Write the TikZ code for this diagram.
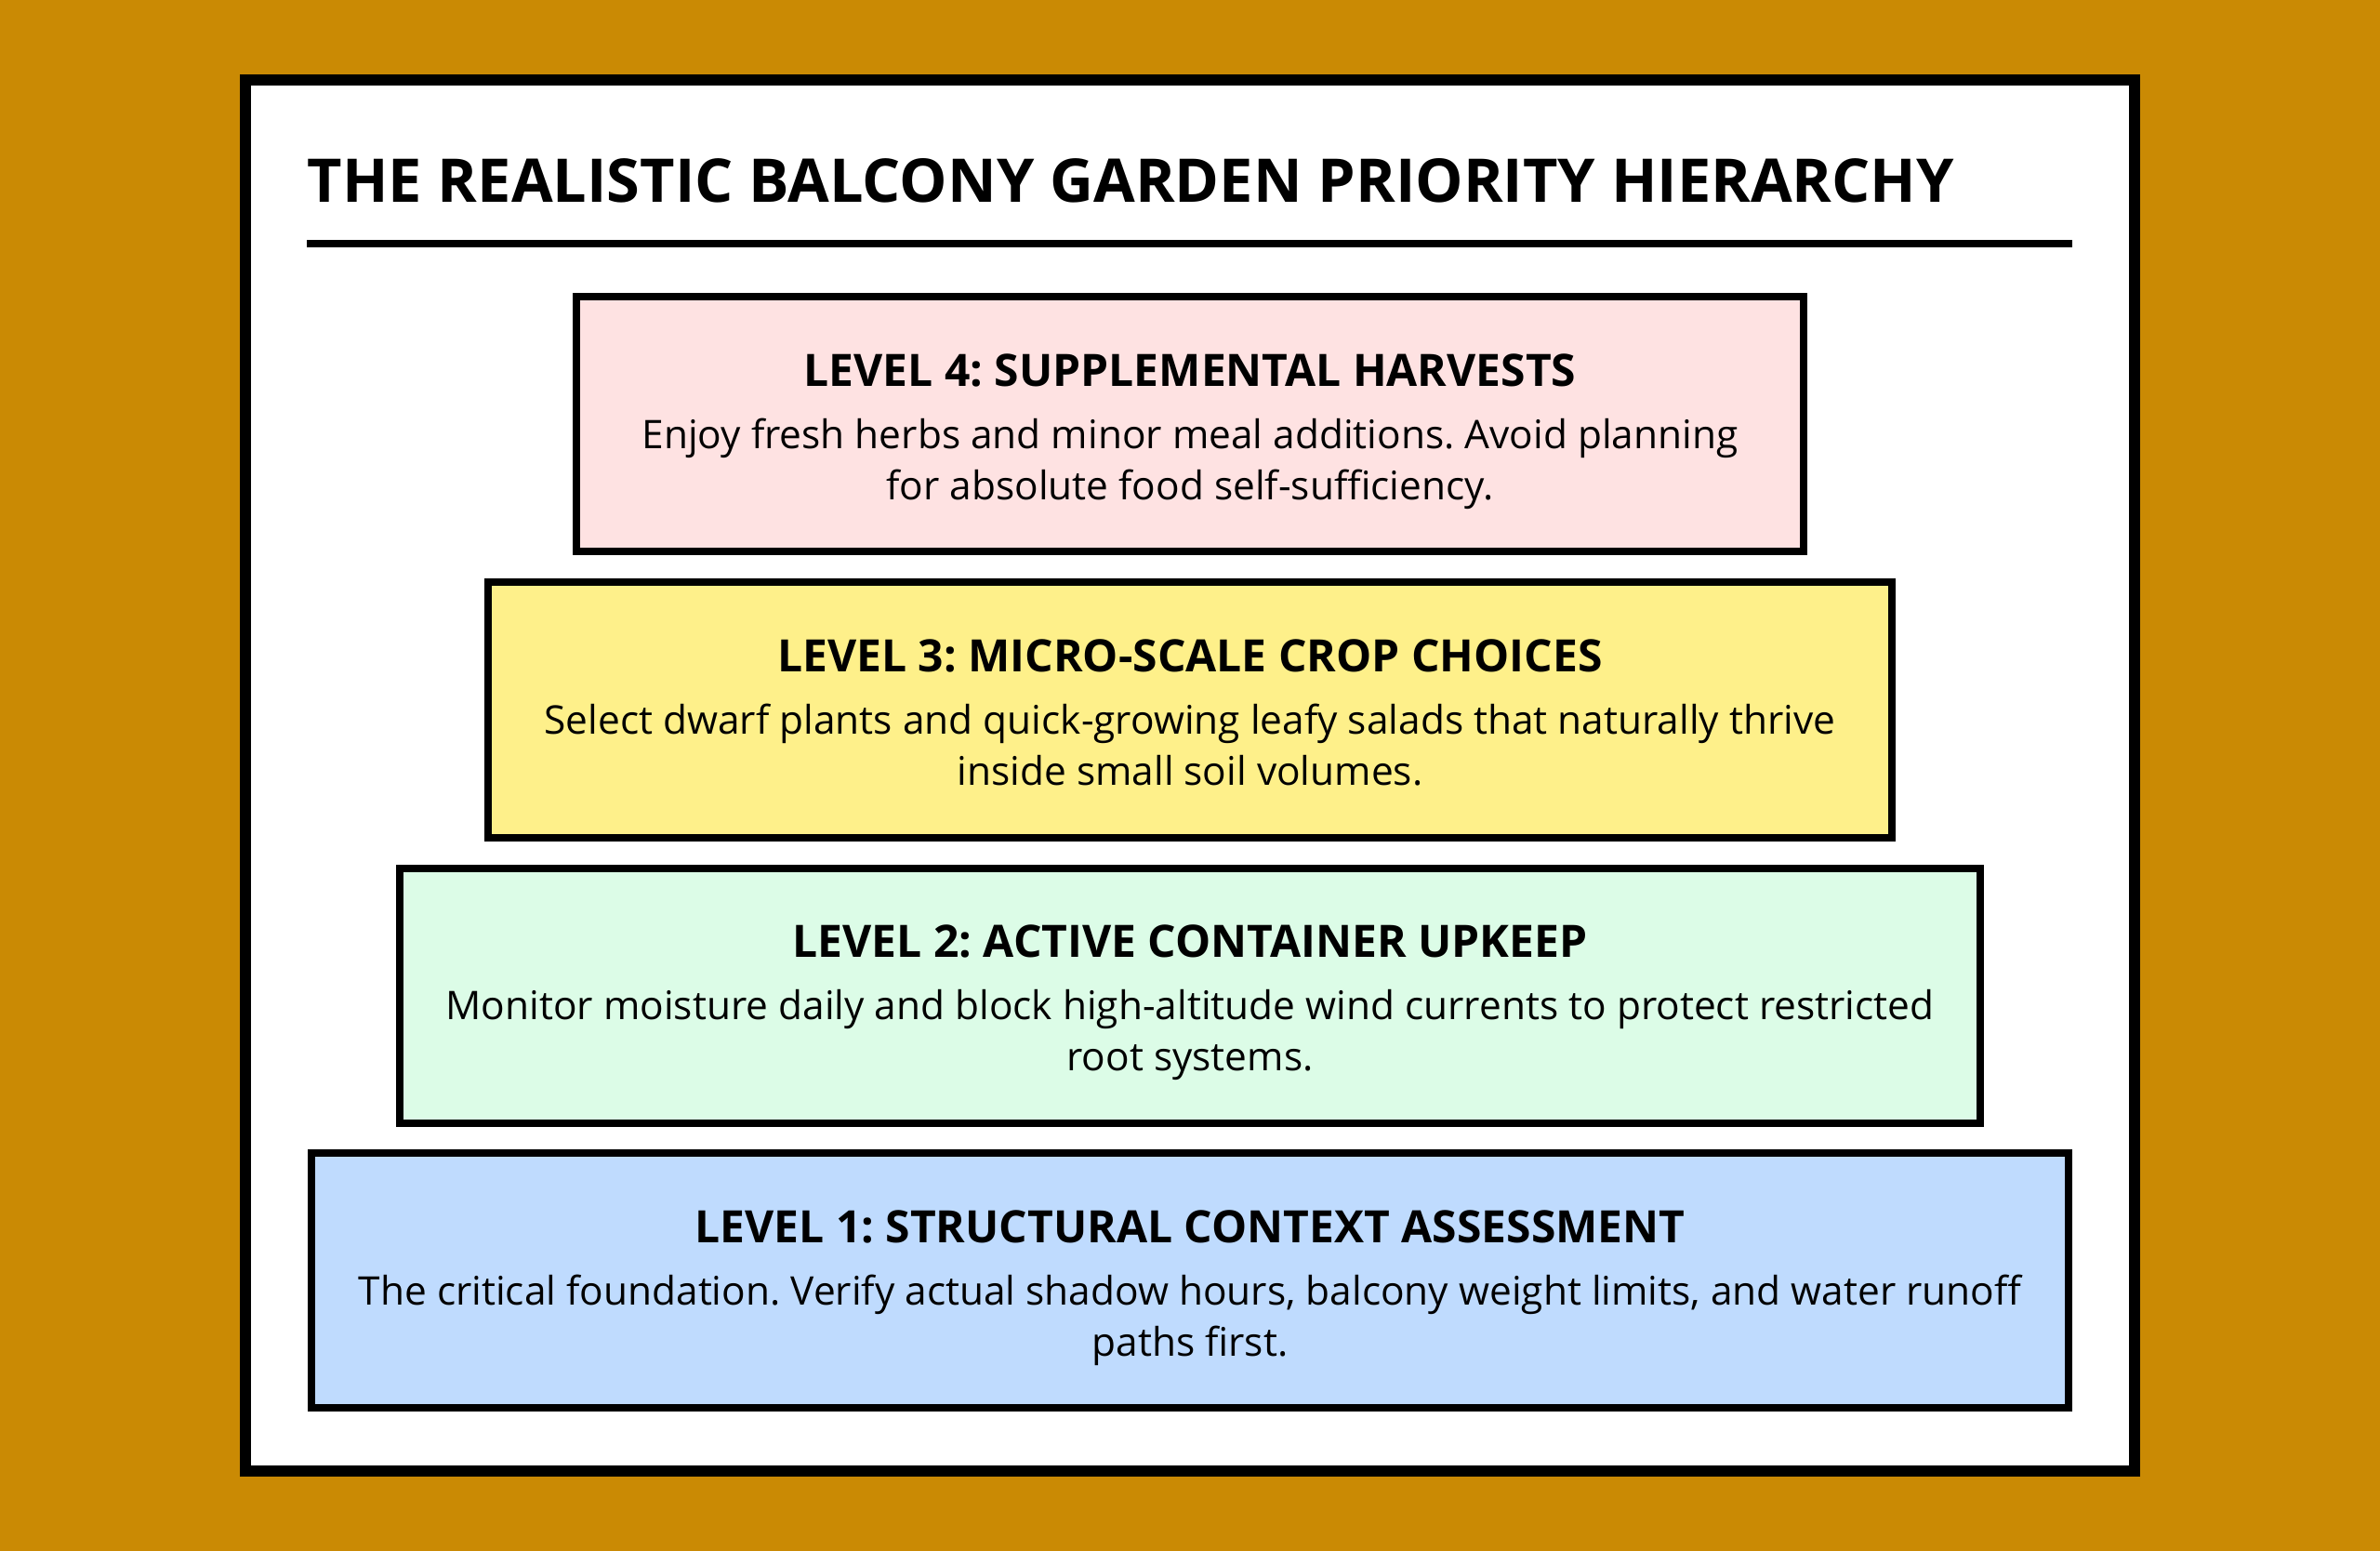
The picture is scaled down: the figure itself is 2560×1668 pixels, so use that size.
\documentclass[tikz,border=0pt]{standalone}
\usepackage{fontspec}
\setmainfont{Open Sans}
\frenchspacing
\definecolor{bggold}{HTML}{CA8A04}
\definecolor{lvlpink}{HTML}{FEE2E2}
\definecolor{lvlyellow}{HTML}{FEF08A}
\definecolor{lvlgreen}{HTML}{DCFCE7}
\definecolor{lvlblue}{HTML}{BFDBFE}
\tikzset{
  levelbox/.style={draw=black, line width=2pt, rectangle, minimum height=68.5pt, inner sep=0pt},
  levelhead/.style={anchor=base, inner sep=0pt, font=\bfseries\fontsize{12}{14}\selectfont},
  levelbody/.style={anchor=base, inner sep=0pt, align=center, font=\fontsize{10.6}{13.75}\selectfont}
}
\begin{document}
\begin{tikzpicture}[x=0.25pt,y=-0.25pt]
			%Nen
			\fill[bggold] (0,0) rectangle (2560,1668);
			\useasboundingbox (0,0) rectangle (2560,1668);
			%Khung ngoai
			\draw[fill=white, line width=3pt] (264,86) rectangle (2296,1582);
			%Tieu de
			\node (title) [anchor=base west, inner sep=0pt, font=\bfseries\fontsize{16.2}{19}\selectfont] at (330,218) {THE REALISTIC BALCONY GARDEN PRIORITY HIERARCHY};
			\draw[line width=2pt] (330,262) -- (2229,262);
			%Muc 4
			\node (lvl4) [levelbox, fill=lvlpink, minimum width=330pt] at (1280,456.5) {};
			\node (lvl4head) [levelhead] at ([yshift=-25pt]lvl4.north) {LEVEL 4: SUPPLEMENTAL HARVESTS};
			\node (lvl4body) [levelbody] at ([yshift=-55.5pt]lvl4.north) {Enjoy fresh herbs and minor meal additions. Avoid planning\\for absolute food self-sufficiency.};
			%Muc 3
			\node (lvl3) [levelbox, fill=lvlyellow, minimum width=377.5pt] at (1280,763.5) {};
			\node (lvl3head) [levelhead] at ([yshift=-25pt]lvl3.north) {LEVEL 3: MICRO-SCALE CROP CHOICES};
			\node (lvl3body) [levelbody] at ([yshift=-55.5pt]lvl3.north) {Select dwarf plants and quick-growing leafy salads that naturally thrive\\inside small soil volumes.};
			%Muc 2
			\node (lvl2) [levelbox, fill=lvlgreen, minimum width=425pt] at (1280,1070.5) {};
			\node (lvl2head) [levelhead] at ([yshift=-25pt]lvl2.north) {LEVEL 2: ACTIVE CONTAINER UPKEEP};
			\node (lvl2body) [levelbody] at ([yshift=-55.5pt]lvl2.north) {Monitor moisture daily and block high-altitude wind currents to protect restricted\\root systems.};
			%Muc 1
			\node (lvl1) [levelbox, fill=lvlblue, minimum width=472.5pt] at (1280,1377) {};
			\node (lvl1head) [levelhead] at ([yshift=-25pt]lvl1.north) {LEVEL 1: STRUCTURAL CONTEXT ASSESSMENT};
			\node (lvl1body) [levelbody] at ([yshift=-55.5pt]lvl1.north) {The critical foundation. Verify actual shadow hours, balcony weight limits, and water runoff\\paths first.};
\end{tikzpicture}
\end{document}
